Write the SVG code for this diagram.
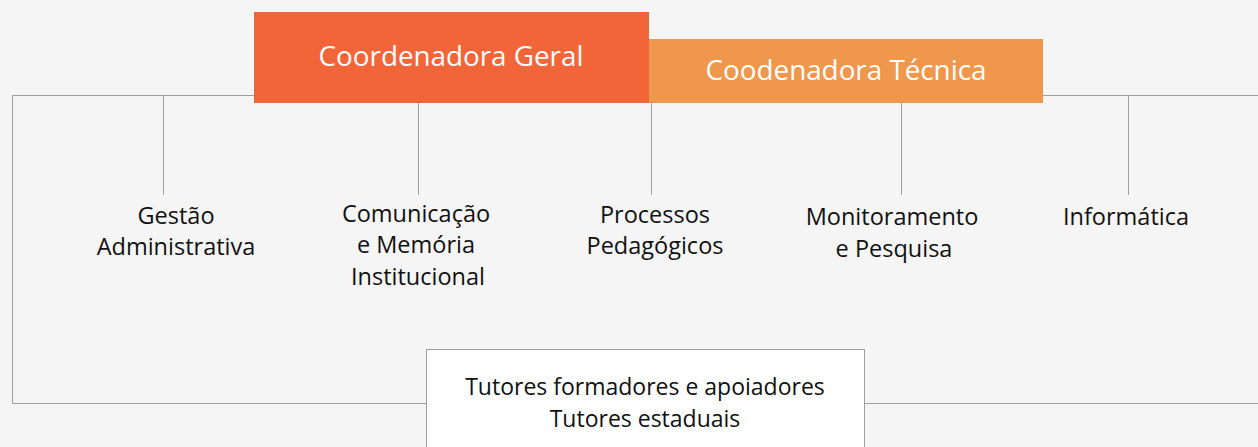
<svg xmlns="http://www.w3.org/2000/svg" width="1258" height="447" viewBox="0 0 1258 447">
<style>
.lbl{font-family:"Open Sans","Liberation Sans",sans-serif;font-size:23.5px;fill:#111;text-anchor:middle}
.hd{font-family:"Open Sans","Liberation Sans",sans-serif;font-size:27.8px;fill:#fff;text-anchor:middle}
.ln{stroke:#9e9e9e;stroke-width:1;fill:none}
</style>
<rect width="1258" height="447" fill="#f5f5f5"/>
<g id="connectors">
<path class="ln" d="M1258 95.5H12.5V403.5H1258"/>
<path class="ln" d="M163.5 96V195M418.5 103V195M651.5 103V195M901.5 103V195M1128.5 96V195"/>
</g>
<g id="coord-geral">
<rect x="254" y="12" width="395" height="91" fill="#f26539"/>
<text class="hd" x="451" y="66">Coordenadora Geral</text>
</g>
<g id="coord-tecnica">
<rect x="649" y="39" width="394" height="64" fill="#ef974c"/>
<text class="hd" x="846" y="80">Coodenadora Técnica</text>
</g>
<g id="gestao"><text class="lbl" x="176" y="224">Gestão</text><text class="lbl" x="176" y="255">Administrativa</text></g>
<g id="comunicacao"><text class="lbl" x="416" y="222">Comunicação</text><text class="lbl" x="416" y="253">e Memória</text><text class="lbl" x="418" y="285">Institucional</text></g>
<g id="processos"><text class="lbl" x="655" y="223">Processos</text><text class="lbl" x="655" y="254">Pedagógicos</text></g>
<g id="monitoramento"><text class="lbl" x="892" y="225">Monitoramento</text><text class="lbl" x="894" y="257">e Pesquisa</text></g>
<g id="informatica"><text class="lbl" x="1126" y="225">Informática</text></g>
<g id="tutores">
<rect x="426.5" y="349.5" width="438" height="110" fill="#fff" stroke="#9e9e9e"/>
<text class="lbl" x="645" y="395" style="font-size:23px">Tutores formadores e apoiadores</text>
<text class="lbl" x="645" y="427" style="font-size:23px">Tutores estaduais</text>
</g>
</svg>
